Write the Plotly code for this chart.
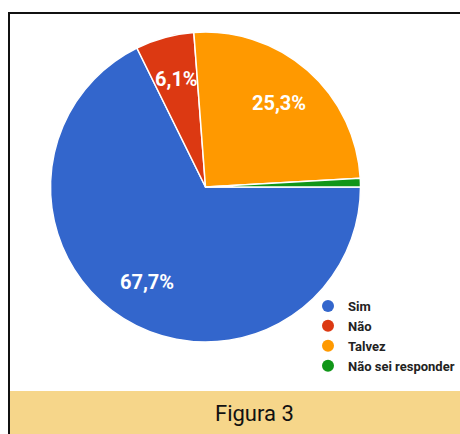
import math
import plotly.graph_objects as go

labels = ["Sim", "Não", "Talvez", "Não sei responder"]
values = [67.7, 6.1, 25.3, 0.9]
colors = ["#3366CC", "#DC3912", "#FF9900", "#109618"]
show_text = [True, True, True, False]
caption = "Figura 3"

W, H = 460, 434
cx, cy, R = 205.5, 187, 155
ROT = 90  # first slice starts at 3 o'clock, clockwise
LABEL_R = 0.72

fig = go.Figure()
fig.add_trace(go.Pie(
    labels=labels, values=values, sort=False, direction="clockwise", rotation=ROT,
    marker=dict(colors=colors, line=dict(color="white", width=1.5)),
    textinfo="none",
    domain=dict(x=[(cx - R) / W, (cx + R) / W], y=[(H - cy - R) / H, (H - cy + R) / H]),
    showlegend=False, hoverinfo="label+percent",
))
for lab, col in zip(labels, colors):
    fig.add_trace(go.Scatter(x=[None], y=[None], mode="markers", name=lab,
                             marker=dict(symbol="circle", size=12, color=col)))

# percentage labels placed at the mid-angle of each slice
annotations = []
total = sum(values)
cum = 0.0
for v, s in zip(values, show_text):
    mid = ROT + (cum + v / 2) / total * 360
    cum += v
    if not s:
        continue
    a = math.radians(mid)
    px = cx + LABEL_R * R * math.sin(a)
    py = cy - LABEL_R * R * math.cos(a)
    txt = f"{v / total * 100:.1f}".replace(".", ",") + "%"
    annotations.append(dict(text=txt, xref="paper", yref="paper", x=px / W, y=1 - py / H,
                            xanchor="center", yanchor="middle", showarrow=False,
                            font=dict(family="Roboto", size=20, color="white", weight="bold")))
annotations.append(dict(text=caption, xref="paper", yref="paper", x=254 / W, y=1 - 413 / H,
                        xanchor="center", yanchor="middle", showarrow=False,
                        font=dict(family="Roboto", size=22, color="#111")))

fig.update_layout(
    width=W, height=H, margin=dict(l=0, r=0, t=0, b=0),
    paper_bgcolor="white", plot_bgcolor="white",
    xaxis=dict(visible=False, domain=[0, 1]), yaxis=dict(visible=False, domain=[0, 1]),
    legend=dict(x=308 / W, y=1 - 291 / H, xanchor="left", yanchor="top",
                font=dict(family="Roboto", size=13, color="#222", weight="bold"),
                bgcolor="rgba(0,0,0,0)", itemwidth=30, tracegroupgap=0),
    shapes=[
        dict(type="rect", xref="paper", yref="paper", x0=10 / W, x1=1, y0=0, y1=1 - 391 / H,
             fillcolor="#F6D68A", line=dict(width=0), layer="below"),
        dict(type="line", xref="paper", yref="paper", x0=8 / W, x1=1, y0=1 - 13 / H, y1=1 - 13 / H,
             line=dict(color="#111", width=2)),
        dict(type="line", xref="paper", yref="paper", x0=9 / W, x1=9 / W, y0=0, y1=1 - 12 / H,
             line=dict(color="#111", width=2)),
    ],
    annotations=annotations,
)
fig.write_html("out.html")
